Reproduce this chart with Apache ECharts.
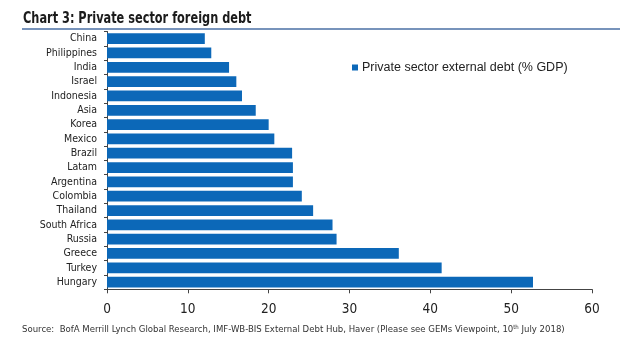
<!DOCTYPE html>
<html>
<head>
<meta charset="utf-8">
<script src="https://cdn.jsdelivr.net/npm/echarts@6/dist/echarts.min.js"></script>
<style>
html,body{margin:0;padding:0;background:#fff;}
#c{width:640px;height:356px;}
</style>
</head>
<body>
<div id="c"></div>
<script>
const categories = ["China","Philippines","India","Israel","Indonesia","Asia","Korea","Mexico","Brazil","Latam","Argentina","Colombia","Thailand","South Africa","Russia","Greece","Turkey","Hungary"];
const debtValues = [12.1, 12.9, 15.1, 16.0, 16.7, 18.4, 20.0, 20.7, 22.9, 23.0, 23.0, 24.1, 25.5, 27.9, 28.4, 36.1, 41.4, 52.7];
const xTicks = [0, 10, 20, 30, 40, 50, 60];
const seriesName = "Private sector external debt (% GDP)";
const titleText = "Chart 3: Private sector foreign debt";

const NARROW = '"DejaVu Sans Condensed", "Liberation Sans", sans-serif';
const chart = echarts.init(document.getElementById('c'), null, {renderer: 'canvas'});
chart.setOption({
  animation: false,
  backgroundColor: '#ffffff',
  legend: {
    data: [seriesName],
    left: 347, top: 56,
    icon: 'rect', itemWidth: 6, itemHeight: 6, itemGap: 5,
    textStyle: {fontFamily: 'Liberation Sans', fontSize: 12.5, color: '#222', padding: [0,0,0,-1]}
  },
  grid: {left: 107, right: 48, top: 31.5, bottom: 66.7, containLabel: false},
  xAxis: {
    type: 'value', min: xTicks[0], max: xTicks[xTicks.length-1], interval: 10,
    axisLine: {show: true, lineStyle: {color: '#444', width: 1}},
    axisTick: {show: true, length: 4, lineStyle: {color: '#444'}},
    splitLine: {show: false},
    axisLabel: {fontFamily: NARROW, fontSize: 13.5, color: '#222', margin: 13}
  },
  yAxis: {
    type: 'category', data: categories, inverse: true,
    axisLine: {show: true, lineStyle: {color: '#444', width: 1}},
    axisTick: {show: true, length: 3, alignWithLabel: false, lineStyle: {color: '#444'}},
    axisLabel: {fontFamily: NARROW, fontSize: 10.5, color: '#222', margin: 10}
  },
  series: [{
    name: seriesName, type: 'bar', data: debtValues,
    barCategoryGap: '25%',
    itemStyle: {color: '#0c68b8'}
  }],
  graphic: [
    {type: 'text', x: 23, y: 12, scaleX: 0.84, scaleY: 1,
     style: {text: titleText, fontFamily: NARROW, fontWeight: 'bold', fontSize: 15, fill: '#1b1b1b'}},
    {type: 'line', shape: {x1: 22, y1: 29, x2: 620, y2: 29}, style: {stroke: '#4a6fa5', lineWidth: 1.5}},
    {type: 'text', left: 22, top: 324,
     style: {
       text: '{a|Source:  BofA Merrill Lynch Global Research, IMF-WB-BIS External Debt Hub, Haver (Please see GEMs Viewpoint, 10}{s|th}{a| July 2018)}',
       rich: {
         a: {fontFamily: NARROW, fontSize: 9.5, fill: '#333'},
         s: {fontFamily: NARROW, fontSize: 6, fill: '#333', verticalAlign: 'top', padding: [0,0,5,0]}
       }
     }}
  ]
});
</script>
</body>
</html>
